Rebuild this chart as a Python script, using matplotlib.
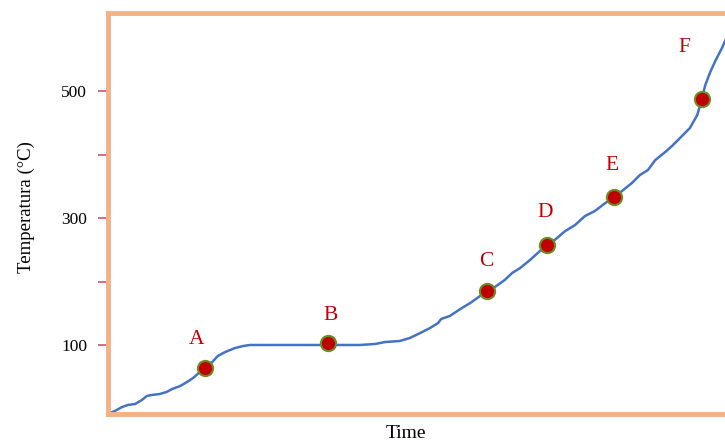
import matplotlib.pyplot as plt

# heating curve
time = [0, 1.1, 2.3, 3.2, 4.4, 5.5, 6.3, 7.1, 8.4, 9.5, 10.4, 11.7, 12.8, 13.8, 14.7,
        15.7, 16.9, 17.8, 19.0, 20.6, 21.9, 23.0, 31.1, 37.6, 40.8, 43.3, 44.9, 47.3,
        48.9, 50.6, 52.2, 53.5, 54.0, 55.4, 57.1, 58.7, 60.3, 61.4, 62.7, 64.3, 65.5,
        66.8, 68.4, 70.0, 71.2, 72.4, 74.1, 75.7, 77.3, 78.9, 80.6, 82.0, 83.3, 84.9,
        86.2, 87.5, 88.7, 90.3, 91.4, 92.7, 94.3, 95.5, 96.2, 96.8, 97.6, 98.5, 99.5, 100.3]
temp = [-8.7, -4, 2.4, 5.5, 7.1, 13.4, 19.7, 21.3, 22.8, 26.0, 30.7, 35.4, 41.7, 48.0, 55.9,
        63.8, 73.2, 82.7, 89.0, 95.3, 98.4, 100, 100, 100, 100, 101.6, 104.7, 106.3,
        111.0, 118.9, 126.8, 134.6, 141.0, 145.7, 156.7, 166.1, 177.2, 185.0, 191.3, 202.4, 213.4,
        221.3, 233.9, 248.0, 257.5, 265.4, 279.5, 289.0, 303.1, 311.0, 323.6, 333.1, 342.5, 355.1,
        367.7, 375.6, 391.3, 403.9, 413.4, 426.0, 441.7, 462.2, 485.8, 509.4, 529.9, 548.8, 567.7, 585.0]

# marked points
point_names = ['A', 'B', 'C', 'D', 'E', 'F']
point_time = [15.7, 35.7, 61.4, 71.2, 82.0, 96.2]
point_temp = [64, 103, 185, 257, 333, 487]
label_time = [14.4, 36.0, 61.3, 70.8, 81.7, 93.4]
label_temp = [109, 146, 231, 308, 383, 568]

yticks = [100, 200, 300, 400, 500]
ytick_labels = ['100', '', '300', '', '500']

plt.rcParams['font.family'] = ['Liberation Serif', 'DejaVu Serif']

fig = plt.figure(figsize=(7.25, 4.45), dpi=100)
ax = fig.add_axes([108 / 725, 31 / 445, 1 - 108 / 725, 401 / 445])

ax.plot(time, temp, color='#4472c4', lw=1.8, zorder=2)
ax.scatter(point_time, point_temp, s=120, color='#c00000', edgecolors='#6b8e23',
           linewidths=1.5, zorder=3)
for name, tx, ty in zip(point_names, label_time, label_temp):
    ax.text(tx, ty, name, color='#c00000', fontsize=15.5, ha='center', va='center')

ax.set_xlim(0, 100)
ax.set_ylim(-8.7, 623)
ax.set_xticks([])
ax.set_yticks(yticks)
ax.set_yticklabels(ytick_labels, fontsize=12.5)
ax.tick_params(axis='y', length=7, width=1.2, color='#c8556a', pad=8)

for side in ['left', 'top', 'bottom']:
    ax.spines[side].set_color('#f4b183')
    ax.spines[side].set_linewidth(3.5)
ax.spines['right'].set_visible(False)

ax.set_ylabel('Temperatura (°C)', fontsize=13.5)
ax.yaxis.set_label_coords(-0.118, 0.516)
ax.set_xlabel('Time', fontsize=14)
ax.xaxis.set_label_coords(0.483, -0.028)

fig.savefig('out.png', dpi=100)
